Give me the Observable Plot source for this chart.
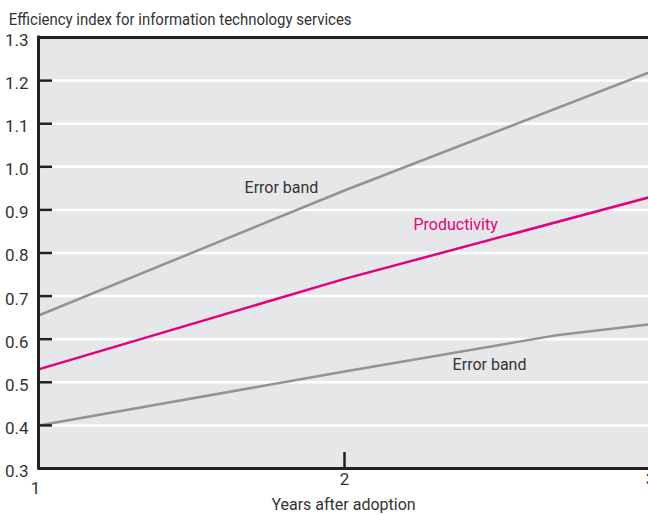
<!DOCTYPE html>
<html><head><meta charset="utf-8">
<script src="https://cdn.jsdelivr.net/npm/d3@7"></script>
<script src="https://cdn.jsdelivr.net/npm/@observablehq/plot@0.6"></script>
<style>
body{margin:0;background:#fff;font-family:Roboto,sans-serif;color:#333}
#title{height:30px;box-sizing:border-box;padding:11px 0 0 10px;font-size:17px;line-height:17px;white-space:nowrap;transform:scaleX(0.88);transform-origin:0 0}
</style></head><body>
<div id="title">Efficiency index for information technology services</div>
<div id="chart"></div>
<script>
const years = [1, 2, 3];
const productivity = [0.53, 0.74, 0.93];
const upperBand = [0.655, 0.945, 1.22];
const lowerYears = [1, 2, 2.7, 3];
const lowerBand = [0.40, 0.525, 0.61, 0.635];
const yTicks = [0.3, 0.4, 0.5, 0.6, 0.7, 0.8, 0.9, 1.0, 1.1, 1.2, 1.3];
const xTicks = [1, 2, 3];
const seriesLabels = [
  {x: 1.794, y: 0.95, text: "Error band", kind: "band"},
  {x: 2.363, y: 0.866, text: "Productivity", kind: "prod"},
  {x: 2.474, y: 0.541, text: "Error band", kind: "band"}
];

const upperData = years.map((x, i) => ({x, y: upperBand[i]}));
const prodData = years.map((x, i) => ({x, y: productivity[i]}));
const lowerData = lowerYears.map((x, i) => ({x, y: lowerBand[i]}));

const W = 648, H = 485, mL = 38, mR = 0, mT = 7, mB = 47;
const plotW = W - mL - mR, plotH = H - mT - mB;
const axisColor = "#231f20";
const textColor = "#333";

const chart = Plot.plot({
  width: W, height: H,
  marginLeft: mL, marginRight: mR, marginTop: mT, marginBottom: mB,
  style: {fontFamily: 'Roboto, sans-serif', background: "#fff", overflow: "hidden"},
  x: {domain: [1, 3], range: [mL, 650]},
  y: {domain: [0.3, 1.3]},
  marks: [
    Plot.rect([{x1: 1, x2: 3, y1: 0.3, y2: 1.3}], {x1: "x1", x2: "x2", y1: "y1", y2: "y2", fill: "#e6e7e9"}),
    Plot.ruleY(yTicks.slice(1, -1), {stroke: "#fff", strokeWidth: 2.5}),
    Plot.line(upperData, {x: "x", y: "y", stroke: "#939393", strokeWidth: 2.5}),
    Plot.line(lowerData, {x: "x", y: "y", stroke: "#939393", strokeWidth: 2.5}),
    Plot.line(prodData, {x: "x", y: "y", stroke: "#e5007e", strokeWidth: 2.5}),
    Plot.ruleY(yTicks, {stroke: axisColor, strokeWidth: 2.5, insetRight: plotW - 14}),
    Plot.ruleX([2], {stroke: axisColor, strokeWidth: 2.5, insetTop: plotH - 16}),
    Plot.ruleY([0.3], {stroke: axisColor, strokeWidth: 3}),
    Plot.ruleY([1.3], {stroke: axisColor, strokeWidth: 3}),
    Plot.ruleX([1], {stroke: axisColor, strokeWidth: 3, insetTop: -1.5, insetBottom: -1.5}),
    Plot.axisY(yTicks, {tickSize: 0, tickPadding: 10, tickFormat: d => d.toFixed(1), fontSize: 17, fill: textColor, dy: 3, label: null}),
    Plot.axisX(xTicks.slice(1), {tickSize: 0, tickPadding: 4, tickFormat: d => String(d), fontSize: 17, fill: textColor, label: null}),
    Plot.axisX(xTicks.slice(0, 1), {tickSize: 0, tickPadding: 4, tickFormat: d => String(d), fontSize: 17, fill: textColor, label: null, dx: -3, dy: 9}),
    Plot.text(["Years after adoption"], {text: d => d, frameAnchor: "bottom", dy: 41, fontSize: 16, fill: textColor}),
    Plot.text(seriesLabels, {x: "x", y: "y", text: "text", fontSize: 16, fill: d => d.kind === "prod" ? "#e5007e" : textColor})
  ]
});
document.getElementById("chart").appendChild(chart);
</script>
</body></html>
